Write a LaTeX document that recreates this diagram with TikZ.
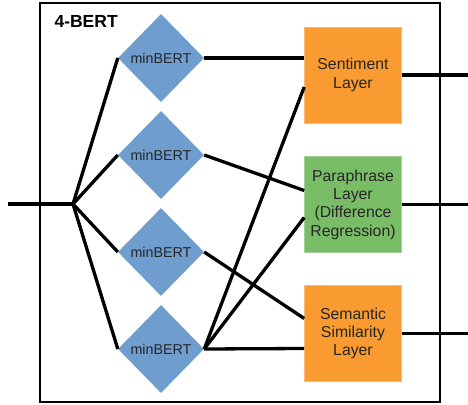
\documentclass[tikz,border=0pt]{standalone}
\usepackage{fontspec}
\setmainfont{Liberation Sans}
\usetikzlibrary{shapes.geometric}
\definecolor{dblue}{HTML}{6F9DCE}
\definecolor{lorange}{HTML}{F99B31}
\definecolor{lgreen}{HTML}{7ABD67}
\tikzset{
  bertdia/.style={diamond, fill=dblue, inner sep=0pt, minimum width=86pt, minimum height=88pt,
    font=\fontsize{14.3}{16}\selectfont, text=black!85},
  layerbox/.style={rectangle, inner sep=0pt, minimum width=97pt, minimum height=96pt,
    align=center, font=\fontsize{15.8}{18.3}\selectfont, text=black!85},
  conn/.style={line width=3.3pt, black}
}
\begin{document}
\begin{tikzpicture}[x=1pt,y=-1pt]
\useasboundingbox (0,0) rectangle (468,404);
\draw[line width=2pt] (40,3) rectangle (440,402);
\node[anchor=base west, font=\fontsize{17.5}{20}\selectfont\bfseries] (title) at (51,28) {4-BERT};

\node[bertdia] (d1) at (161,58) {minBERT};
\node[bertdia] (d2) at (161,155) {minBERT};
\node[bertdia] (d3) at (161,252) {minBERT};
\node[bertdia] (d4) at (161,349) {minBERT};

\node[layerbox, fill=lorange, draw=lorange!70!white, line width=0.6pt] (sent) at (353,75) {Sentiment\\Layer};
\node[layerbox, fill=lgreen, draw=lgreen!70!white, line width=0.6pt] (para) at (353,204.5) {Paraphrase\\Layer\\(Difference\\Regression)};
\node[layerbox, fill=lorange, draw=lorange!70!white, line width=0.6pt] (sem) at (353,333.5) {Semantic\\Similarity\\Layer};

\coordinate (in) at (8,204);
\coordinate (hub) at (73,204);
\coordinate (o1) at (468,75);
\coordinate (o2) at (468,204.5);
\coordinate (o3) at (468,333.5);

\draw[conn] (in) -- (hub);
\draw[conn, line join=miter] (d1.west) -- (hub) -- (d4.west);
\draw[conn] (hub) -- (d2.west);
\draw[conn] (hub) -- (d3.west);

\draw[conn] (d1.east) -- (sent.west |- d1.east);
\draw[conn] (d2.east) -- ([yshift=14pt]para.west);
\draw[conn] (d3.east) -- ([yshift=15pt]sem.west);
\draw[conn] (d4.east) -- ([yshift=-12pt]sent.west);
\draw[conn] (d4.east) -- ([yshift=-13pt]para.west);
\draw[conn] (d4.east) -- ([yshift=-15pt]sem.west);

\draw[conn] (sent.east) -- (o1);
\draw[conn] (para.east) -- (o2);
\draw[conn] (sem.east) -- (o3);
\end{tikzpicture}
\end{document}
